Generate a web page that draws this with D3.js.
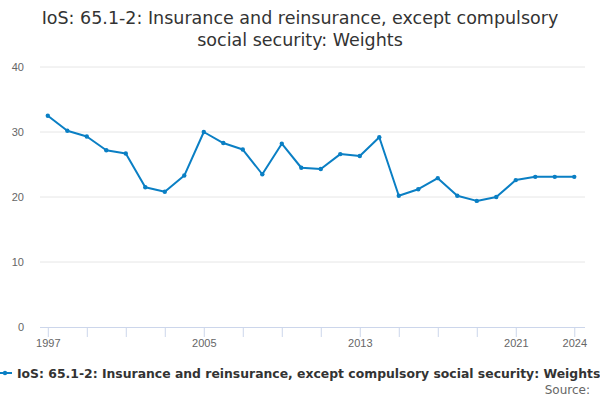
<!DOCTYPE html>
<html>
<head>
  <title>IoS Weights</title>
  <script src="https://d3js.org/d3.v7.min.js"></script>
  <style>
    body { margin: 0; background: #fff; }
    svg { font-family: "DejaVu Sans", sans-serif; }
  </style>
</head>
<body>
<div id="chart"></div>
<script>
// Data
var years = [1997, 1998, 1999, 2000, 2001, 2002, 2003, 2004, 2005, 2006, 2007, 2008, 2009, 2010,
             2011, 2012, 2013, 2014, 2015, 2016, 2017, 2018, 2019, 2020, 2021, 2022, 2023, 2024];
var weights = [32.5, 30.2, 29.3, 27.2, 26.7, 21.5, 20.8, 23.3, 30.0, 28.3, 27.3, 23.5, 28.2, 24.5,
               24.3, 26.6, 26.3, 29.2, 20.2, 21.2, 22.9, 20.2, 19.4, 20.0, 22.6, 23.1, 23.1, 23.1];
var yTicks = [0, 10, 20, 30, 40];
var xTicks = [1997, 1999, 2001, 2003, 2005, 2007, 2009, 2011, 2013, 2015, 2017, 2019, 2021, 2024];
var xLabels = [1997, 2005, 2013, 2021, 2024];
var seriesName = "IoS: 65.1-2: Insurance and reinsurance, except compulsory social security: Weights";

var width = 600, height = 400;
var margin = { top: 67, right: 15, bottom: 73, left: 40 };
var color = "#0a7fc4";

var svg = d3.select("#chart").append("svg")
  .attr("width", width)
  .attr("height", height);

// Title, two lines
var title = svg.append("text")
  .attr("text-anchor", "middle")
  .style("font-size", "17.5px")
  .attr("fill", "#333");
title.append("tspan").attr("x", width / 2).attr("y", 24)
  .text("IoS: 65.1-2: Insurance and reinsurance, except compulsory");
title.append("tspan").attr("x", width / 2).attr("y", 46)
  .text("social security: Weights");

var x = d3.scaleLinear()
  .domain([1996.6, 2024.55])
  .range([margin.left, width - margin.right]);
var y = d3.scaleLinear()
  .domain([0, 40])
  .range([height - margin.bottom, margin.top]);

// Gridlines
svg.append("g")
  .selectAll("line")
  .data(yTicks.filter(function(d) { return d > 0; }))
  .enter().append("line")
  .attr("x1", margin.left)
  .attr("x2", width - margin.right)
  .attr("y1", function(d) { return y(d); })
  .attr("y2", function(d) { return y(d); })
  .attr("stroke", "#e6e6e6")
  .attr("stroke-width", 1);

// Y axis labels
var yAxis = d3.axisLeft(y).tickValues(yTicks).tickSize(0).tickPadding(16);
var gy = svg.append("g")
  .attr("transform", "translate(" + margin.left + ",0)")
  .call(yAxis);
gy.select(".domain").remove();
gy.selectAll("text")
  .style("font-size", "11px")
  .attr("fill", "#666");

// X axis
var xAxis = d3.axisBottom(x)
  .tickValues(xTicks)
  .tickSize(10)
  .tickPadding(2)
  .tickFormat(function(d) { return xLabels.indexOf(d) >= 0 ? d : ""; });
var gx = svg.append("g")
  .attr("transform", "translate(0," + y(0) + ")")
  .call(xAxis);
gx.select(".domain")
  .attr("d", "M" + margin.left + ",0.5H" + (width - margin.right))
  .attr("stroke", "#ccd6eb");
gx.selectAll(".tick line").attr("stroke", "#ccd6eb");
gx.selectAll("text")
  .style("font-size", "11px")
  .attr("fill", "#666");

// Line
var pts = years.map(function(yr, i) { return { year: yr, value: weights[i] }; });
svg.append("path")
  .datum(pts)
  .attr("fill", "none")
  .attr("stroke", color)
  .attr("stroke-width", 2)
  .attr("stroke-linejoin", "round")
  .attr("d", d3.line()
    .x(function(d) { return x(d.year); })
    .y(function(d) { return y(d.value); }));

svg.append("g")
  .selectAll("circle")
  .data(pts)
  .enter().append("circle")
  .attr("cx", function(d) { return x(d.year); })
  .attr("cy", function(d) { return y(d.value); })
  .attr("r", 2.2)
  .attr("fill", color);

// Legend (runs past the right edge, as in the original)
var legend = svg.append("g").attr("transform", "translate(0,373)");
legend.append("line")
  .attr("x1", -2).attr("x2", 12)
  .attr("y1", 0).attr("y2", 0)
  .attr("stroke", color).attr("stroke-width", 2);
legend.append("circle")
  .attr("cx", 5).attr("cy", 0).attr("r", 2.2)
  .attr("fill", color);
legend.append("text")
  .attr("x", 17).attr("y", 5)
  .style("font-size", "12.4px")
  .style("font-weight", "bold")
  .attr("fill", "#333")
  .text(seriesName);

// Source
svg.append("text")
  .attr("x", 590).attr("y", 394)
  .attr("text-anchor", "end")
  .style("font-size", "12px")
  .attr("fill", "#666")
  .text("Source:");
</script>
</body>
</html>
